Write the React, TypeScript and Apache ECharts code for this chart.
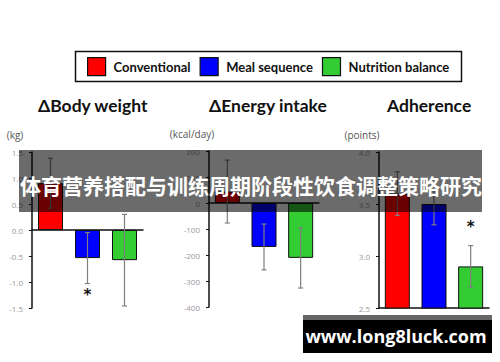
import React, { useEffect, useRef } from "react";
import * as echarts from "echarts";

const categories = ["Conventional", "Meal sequence", "Nutrition balance"];
const barColors = ["#ff0000", "#0000ff", "#33cc33"];

const panelTitles = ["ΔBody weight", "ΔEnergy intake", "Adherence"];
const panelUnits = ["(kg)", "(kcal/day)", "(points)"];

const weightMean = [0.9, -0.54, -0.58];
const weightErr = [0.48, 0.49, 0.88];
const energyMean = [44, -169, -211];
const energyErr = [121, 88, 116];
const adherenceMean = [3.6, 3.5, 2.9];
const adherenceErr = [0.21, 0.2, 0.2];

const axisMin = [-1.5, -400, 2.5];
const axisMax = [1.5, 200, 4.0];
const axisInterval = [0.5, 100, 0.5];
const axisDecimals = [1, 0, 1];

// significance markers: [panel, category index, value]
const asterisks: [number, number, number][] = [
  [0, 1, -1.25],
  [2, 2, 3.28],
];

const bannerText = "体育营养搭配与训练周期阶段性饮食调整策略研究";
const watermarkText = "www.long8luck.com";

const means = [weightMean, energyMean, adherenceMean];
const errs = [weightErr, energyErr, adherenceErr];

const gridBoxes = [
  { left: 32, top: 152, width: 111, height: 156 },
  { left: 209, top: 151, width: 110, height: 156 },
  { left: 379, top: 152, width: 110, height: 156 },
];
const titlePos = [38, 209, 387];

export default function App() {
  const ref = useRef<HTMLDivElement>(null);
  useEffect(() => {
    if (!ref.current) return;
    const chart = echarts.init(ref.current, null, { renderer: "svg" });

    const series: any[] = [];
    means.forEach((m, p) => {
      categories.forEach((c, i) => {
        series.push({
          type: "bar",
          name: c,
          xAxisIndex: p,
          yAxisIndex: p,
          barWidth: 25,
          barGap: "-100%",
          itemStyle: { color: barColors[i], borderColor: "#111", borderWidth: 1 },
          data: m.map((v, j) => (j === i ? v : "-")),
          z: 2,
        });
      });
      series.push({
        type: "custom",
        xAxisIndex: p,
        yAxisIndex: p,
        z: 5,
        data: m.map((v, j) => [j, v - errs[p][j], v + errs[p][j]]),
        renderItem: (params: any, api: any) => {
          const x = api.value(0);
          const lo = api.coord([x, api.value(1)]);
          const hi = api.coord([x, api.value(2)]);
          const st = { stroke: "#7f7f7f", lineWidth: 1.2 };
          return {
            type: "group",
            children: [
              { type: "line", shape: { x1: lo[0], y1: lo[1], x2: hi[0], y2: hi[1] }, style: st },
              { type: "line", shape: { x1: lo[0] - 2.5, y1: lo[1], x2: lo[0] + 2.5, y2: lo[1] }, style: st },
              { type: "line", shape: { x1: hi[0] - 2.5, y1: hi[1], x2: hi[0] + 2.5, y2: hi[1] }, style: st },
            ],
          };
        },
      });
    });

    asterisks.forEach(([p, c, v]) => {
      series.push({
        type: "custom",
        xAxisIndex: p,
        yAxisIndex: p,
        z: 6,
        data: [[c, v]],
        renderItem: (params: any, api: any) => {
          const pt = api.coord([api.value(0), api.value(1)]);
          return {
            type: "text",
            x: pt[0],
            y: pt[1],
            style: {
              text: "*",
              fill: "#111",
              font: "bold 15px 'DejaVu Sans'",
              align: "center",
              verticalAlign: "middle",
            },
          };
        },
      });
    });

    const option: any = {
      animation: false,
      backgroundColor: "#ffffff",
      title: panelTitles.map((t, i) => ({
        text: t,
        left: titlePos[i],
        top: 96,
        padding: 0,
        textStyle: { fontFamily: "Lato", fontWeight: "bold", fontSize: 17.5, color: "#111" },
      })),
      legend: {
        data: categories,
        left: 87,
        top: 57,
        itemWidth: 18,
        itemHeight: 18,
        itemGap: 9,
        icon: "rect",
        padding: 0,
        itemStyle: { borderColor: "#111", borderWidth: 1.2 },
        textStyle: { fontFamily: "Lato", fontWeight: "bold", fontSize: 13, color: "#111", padding: [0, 0, 0, 3] },
        selectedMode: false,
      },
      grid: gridBoxes.map((g) => ({ ...g })),
      xAxis: gridBoxes.map((_, p) => ({
        type: "category",
        gridIndex: p,
        data: categories,
        axisLabel: { show: false },
        axisTick: { show: false },
        axisLine: { show: true, lineStyle: { color: "#111", width: 1.5 } },
      })),
      yAxis: gridBoxes.map((_, p) => ({
        type: "value",
        gridIndex: p,
        min: axisMin[p],
        max: axisMax[p],
        interval: axisInterval[p],
        name: panelUnits[p],
        nameLocation: "end",
        nameGap: 12,
        nameTextStyle: { fontFamily: "Open Sans", fontSize: 10, color: "#555", align: "center", padding: [0, 34, 0, 0] },
        splitLine: { show: false },
        axisLine: { show: true, onZero: false, lineStyle: { color: "#111", width: 1.5 } },
        axisTick: { show: true, length: 3, lineStyle: { color: "#111" } },
        axisLabel: {
          fontFamily: "Open Sans",
          fontSize: 8,
          color: "#999",
          margin: 9,
          formatter: (v: number) => v.toFixed(axisDecimals[p]),
        },
      })),
      graphic: [
        {
          type: "rect",
          shape: { x: 75.5, y: 51.5, width: 386, height: 30 },
          style: { fill: "none", stroke: "#111", lineWidth: 1.5 },
          z: 1,
          silent: true,
        },
        {
          type: "rect",
          shape: { x: 19, y: 150, width: 463, height: 62 },
          style: { fill: "rgba(0,0,0,0.58)" },
          z: 100,
          silent: true,
        },
        {
          type: "text",
          x: 20,
          y: 185,
          style: {
            text: bannerText,
            fill: "#ffffff",
            font: "bold 21px 'Noto Sans CJK SC'",
            align: "left",
            verticalAlign: "middle",
          },
          z: 101,
          silent: true,
        },
        {
          type: "rect",
          shape: { x: 303, y: 315, width: 189, height: 5 },
          style: { fill: "#666666" },
          z: 100,
          silent: true,
        },
        {
          type: "rect",
          shape: { x: 303, y: 320, width: 189, height: 33 },
          style: { fill: "#000000" },
          z: 100,
          silent: true,
        },
        {
          type: "text",
          x: 396,
          y: 336,
          style: {
            text: watermarkText,
            fill: "#ffffff",
            font: "bold 18px 'Open Sans'",
            align: "center",
            verticalAlign: "middle",
          },
          z: 101,
          silent: true,
        },
      ],
      series,
    };
    chart.setOption(option);
    return () => chart.dispose();
  }, []);

  return (
    <div
      ref={ref}
      style={{ position: "fixed", left: 0, top: 0, width: 500, height: 362, background: "#fff" }}
    />
  );
}
